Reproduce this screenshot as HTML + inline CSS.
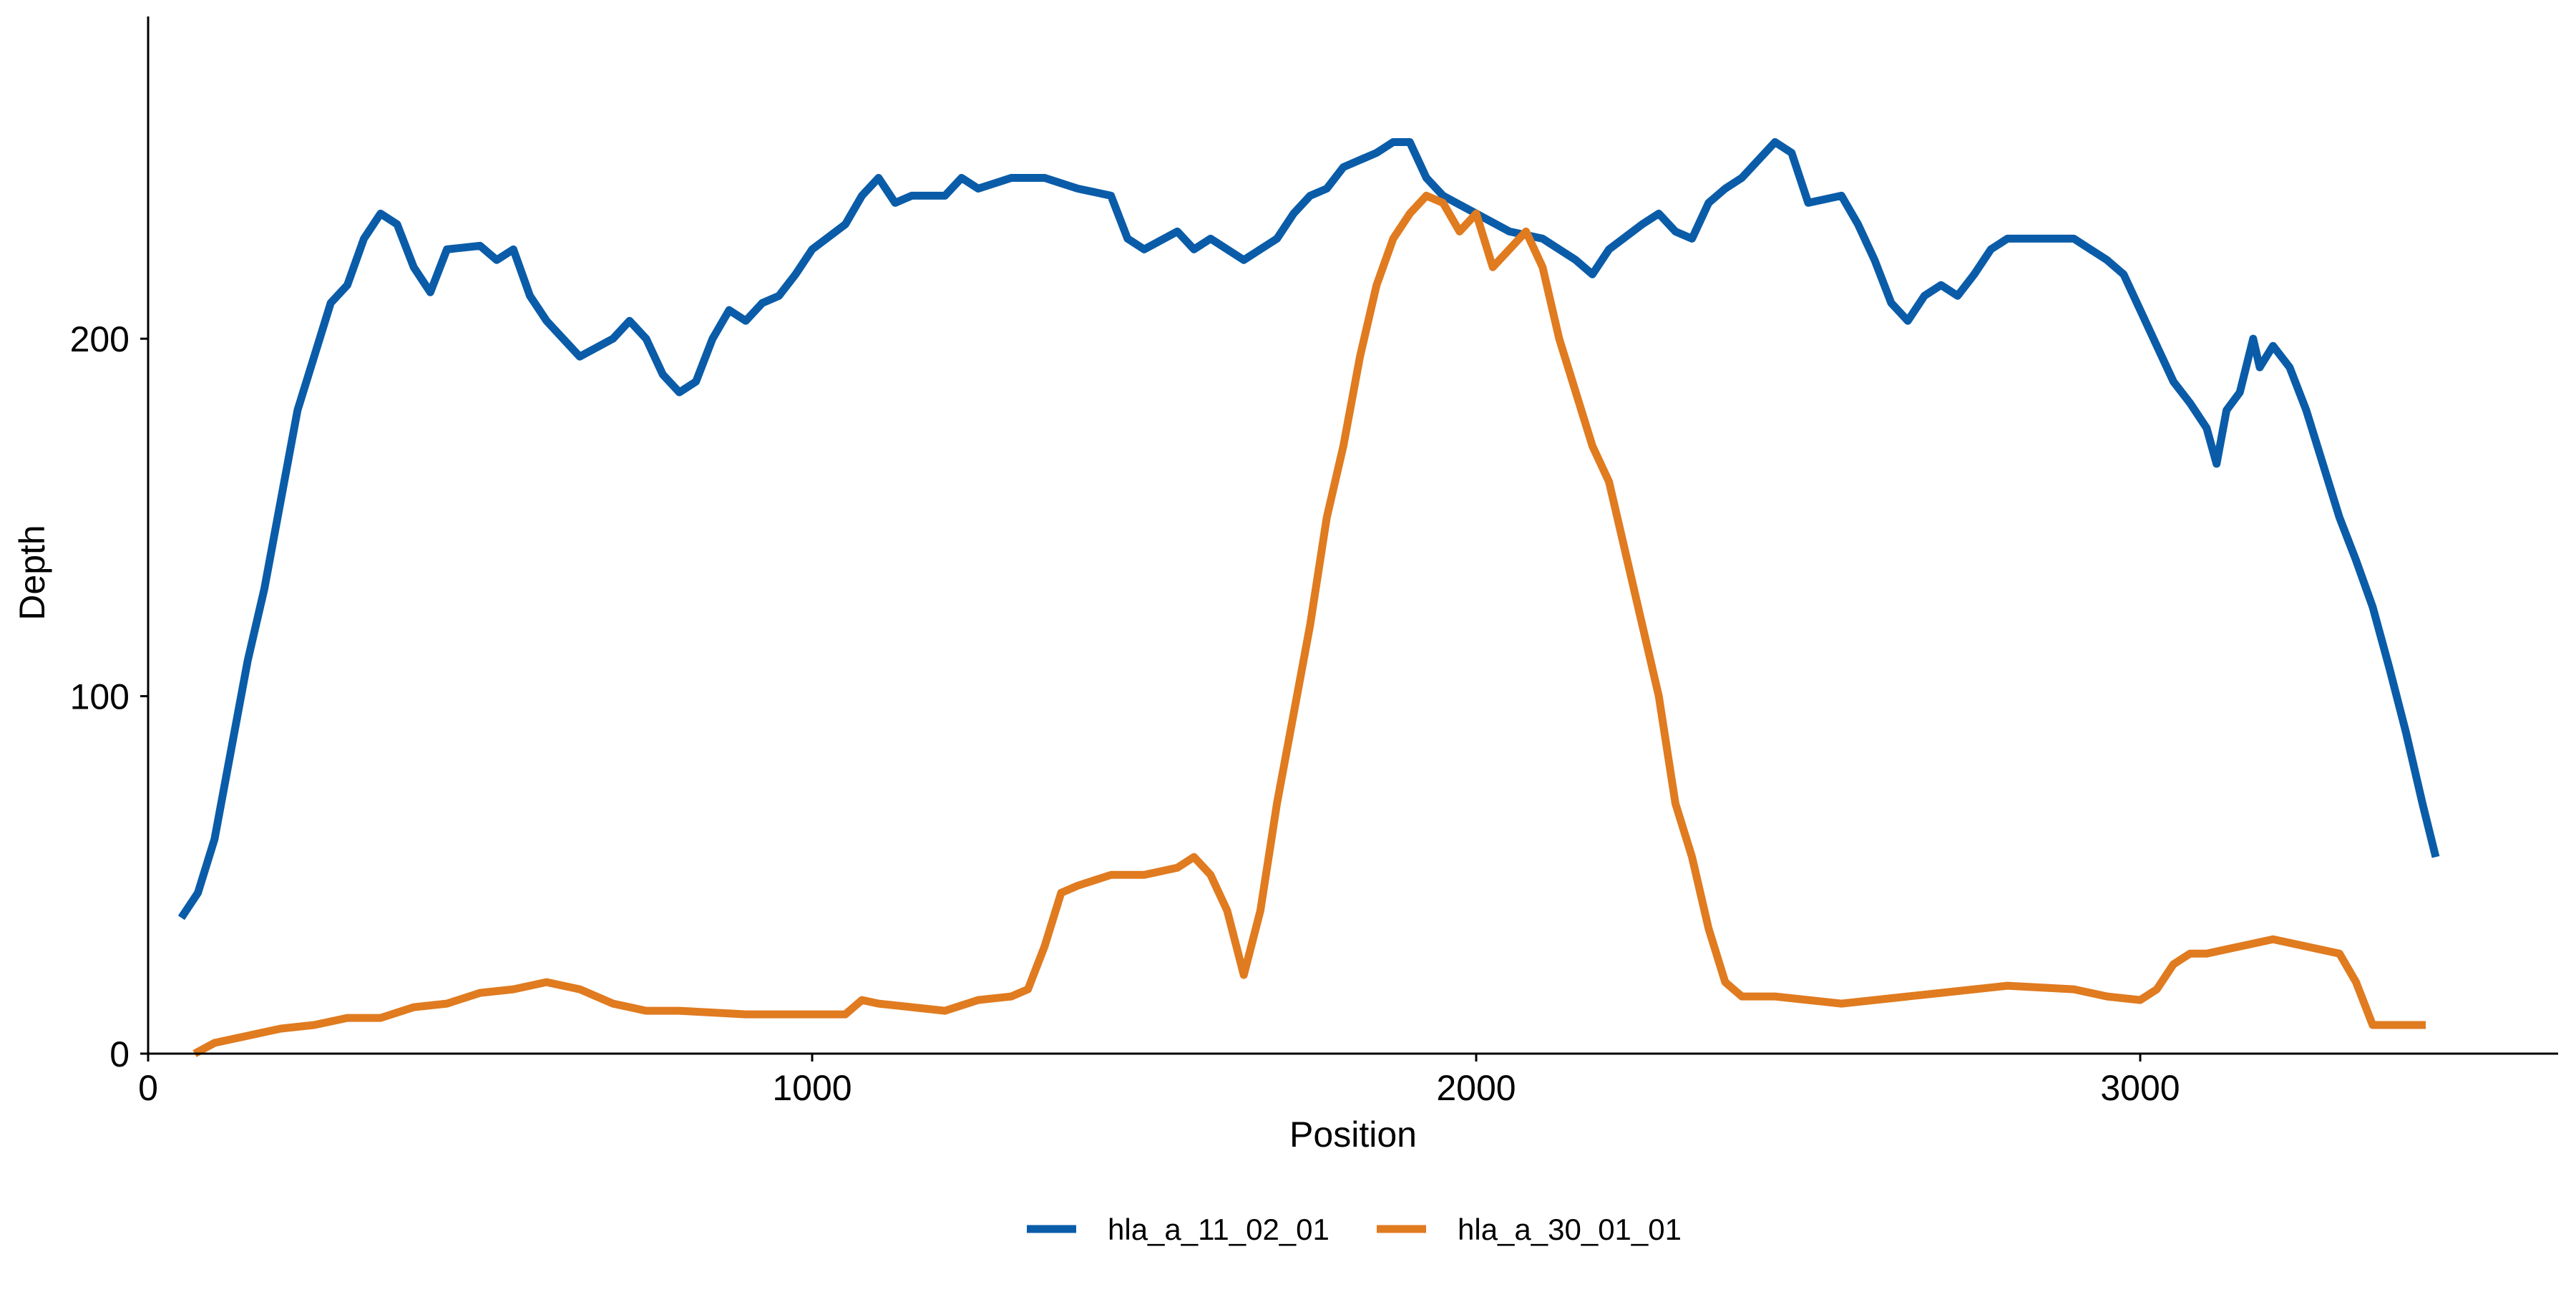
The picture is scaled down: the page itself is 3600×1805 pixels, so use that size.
<!DOCTYPE html>
<html><head><meta charset="utf-8"><style>
html,body{margin:0;padding:0;background:#fff;}
svg text{font-family:"Liberation Sans",Arial,sans-serif;fill:#000;}
</style></head><body>
<svg id="chart" width="3600" height="1800" viewBox="0 0 3600 1800" xmlns="http://www.w3.org/2000/svg">
<rect width="3600" height="1800" fill="#fff"/>
<g id="plot"></g>
<g id="axes"></g>
</svg>
<script>
const xTicks=[0,1000,2000,3000];
const yTicks=[0,100,200];
const blueX=[50,75,100,125,150,175,200,225,250,275,300,325,350,375,400,425,450,500,525,550,575,600,625,650,700,725,750,775,800,825,850,875,900,925,950,975,1000,1050,1075,1100,1125,1150,1200,1225,1250,1300,1350,1400,1450,1475,1500,1550,1575,1600,1650,1700,1725,1750,1775,1800,1850,1875,1900,1925,1950,2000,2050,2100,2150,2175,2200,2250,2275,2300,2325,2350,2375,2400,2425,2450,2475,2500,2550,2575,2600,2625,2650,2675,2700,2725,2750,2775,2800,2850,2900,2925,2950,2975,3000,3025,3050,3075,3100,3115,3130,3150,3170,3180,3200,3225,3250,3275,3300,3325,3350,3375,3400,3425,3445];
const blueY=[38,45,60,85,110,130,155,180,195,210,215,228,235,232,220,213,225,226,222,225,212,205,200,195,200,205,200,190,185,188,200,208,205,210,212,218,225,232,240,245,238,240,240,245,242,245,245,242,240,228,225,230,225,228,222,228,235,240,242,248,252,255,255,245,240,235,230,228,222,218,225,232,235,230,228,238,242,245,250,255,252,238,240,232,222,210,205,212,215,212,218,225,228,228,228,225,222,218,208,198,188,182,175,165,180,185,200,192,198,192,180,165,150,138,125,108,90,70,55];
const orangeX=[70,100,150,200,250,300,350,400,450,500,550,600,650,700,750,800,900,1000,1050,1075,1100,1150,1200,1250,1300,1325,1350,1375,1400,1450,1500,1550,1575,1600,1625,1650,1675,1700,1725,1750,1775,1800,1825,1850,1875,1900,1925,1950,1975,2000,2025,2050,2075,2100,2125,2150,2175,2200,2225,2250,2275,2300,2325,2350,2375,2400,2450,2500,2550,2600,2700,2800,2900,2950,3000,3025,3050,3075,3100,3150,3200,3250,3300,3325,3350,3400,3430];
const orangeY=[0,3,5,7,8,10,10,13,14,17,18,20,18,14,12,12,11,11,11,15,14,13,12,15,16,18,30,45,47,50,50,52,55,50,40,22,40,70,95,120,150,170,195,215,228,235,240,238,230,235,220,225,230,220,200,185,170,160,140,120,100,70,55,35,20,16,16,15,14,15,17,19,18,16,15,18,25,28,28,30,32,30,28,20,8,8,8];
const seriesNames=["hla_a_11_02_01","hla_a_30_01_01"];
const NS="http://www.w3.org/2000/svg";
const X0=207, XK=0.928, Y0=1472, YK=4.994;
function sx(v){return X0+v*XK;}
function sy(v){return Y0-v*YK;}
function mk(tag,attrs,parent){const e=document.createElementNS(NS,tag);for(const k in attrs)e.setAttribute(k,attrs[k]);parent.appendChild(e);return e;}
const plot=document.getElementById('plot'), axes=document.getElementById('axes');
function drawLine(xs,ys,color,name){
  let d='';xs.forEach((x,i)=>{d+=(i?'L':'M')+sx(x).toFixed(1)+','+sy(ys[i]).toFixed(1);});
  const p=mk('path',{d:d,fill:'none',stroke:color,'stroke-width':11,'stroke-linejoin':'round','stroke-linecap':'butt'},plot);
  
  
}
drawLine(blueX,blueY,'#0a5ca8','series-hla-a-11-02-01');
drawLine(orangeX,orangeY,'#e07b20','series-hla-a-30-01-01');
let a=mk('line',{x1:X0,y1:23,x2:X0,y2:Y0,stroke:'#000','stroke-width':3},axes);


a=mk('line',{x1:X0,y1:Y0,x2:3575,y2:Y0,stroke:'#000','stroke-width':3},axes);


xTicks.forEach(t=>{
  mk('line',{x1:sx(t),y1:Y0,x2:sx(t),y2:Y0+11,stroke:'#000','stroke-width':3},axes);
  const tx=mk('text',{x:sx(t),y:1537,'font-size':50,'text-anchor':'middle'},axes);
  tx.textContent=t;
  
  
});
yTicks.forEach(t=>{
  mk('line',{x1:X0-11,y1:sy(t),x2:X0,y2:sy(t),stroke:'#000','stroke-width':3},axes);
  const tx=mk('text',{x:181,y:sy(t)+18,'font-size':50,'text-anchor':'end'},axes);
  tx.textContent=t;
  
  
});
let t=mk('text',{x:1891,y:1602,'font-size':50,'text-anchor':'middle'},axes);
t.textContent='Position';


t=mk('text',{x:0,y:0,'font-size':50,'text-anchor':'middle',transform:'translate(62,800) rotate(-90)'},axes);
t.textContent='Depth';


const legX=[1435,1924], legColors=['#0a5ca8','#e07b20'];
seriesNames.forEach((n,i)=>{
  const g=mk('g',{},axes);
  
  
  mk('line',{x1:legX[i],y1:1717,x2:legX[i]+69,y2:1717,stroke:legColors[i],'stroke-width':11},g);
  const lt=mk('text',{x:legX[i]+113,y:1732,'font-size':42},g);
  lt.textContent=n;
});
</script>
</body></html>
